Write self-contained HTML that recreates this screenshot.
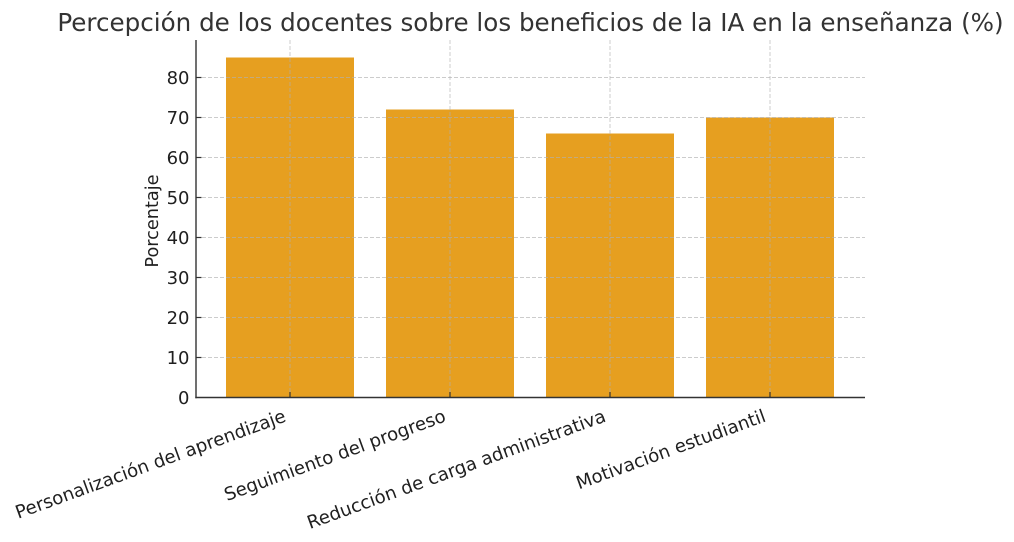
<!DOCTYPE html>
<html>
<head>
<meta charset="utf-8">
<style>
  html, body { margin:0; padding:0; background:#ffffff; }
  svg { display:block; }
  text { font-family: "DejaVu Sans", "Liberation Sans", sans-serif; }
</style>
</head>
<body>
<svg width="1014" height="542" viewBox="0 0 1014 542" xmlns="http://www.w3.org/2000/svg">
  <rect x="0" y="0" width="1014" height="542" fill="#ffffff"/>

  <!-- Title -->
  <text x="530.5" y="31" text-anchor="middle" font-size="24.6" fill="#333333">Percepción de los docentes sobre los beneficios de la IA en la enseñanza (%)</text>

  <!-- Bars -->
  <g fill="#e69f20">
    <rect x="226" y="57.5" width="128" height="340"/>
    <rect x="386" y="109.5" width="128" height="288"/>
    <rect x="546" y="133.5" width="128" height="264"/>
    <rect x="706" y="117.5" width="128" height="280"/>
  </g>

  <!-- Grid -->
  <g stroke="#b0b0b0" stroke-opacity="0.65" stroke-width="1" stroke-dasharray="4,2" fill="none">
    <line x1="196" y1="77.5" x2="865" y2="77.5"/>
    <line x1="196" y1="117.5" x2="865" y2="117.5"/>
    <line x1="196" y1="157.5" x2="865" y2="157.5"/>
    <line x1="196" y1="197.5" x2="865" y2="197.5"/>
    <line x1="196" y1="237.5" x2="865" y2="237.5"/>
    <line x1="196" y1="277.5" x2="865" y2="277.5"/>
    <line x1="196" y1="317.5" x2="865" y2="317.5"/>
    <line x1="196" y1="357.5" x2="865" y2="357.5"/>
    <line x1="290" y1="40" x2="290" y2="397.5"/>
    <line x1="450" y1="40" x2="450" y2="397.5"/>
    <line x1="610" y1="40" x2="610" y2="397.5"/>
    <line x1="770" y1="40" x2="770" y2="397.5"/>
  </g>

  <!-- Ticks (inward) -->
  <g stroke="#333333" stroke-width="1.2">
    <line x1="196" y1="77.5" x2="201.5" y2="77.5"/>
    <line x1="196" y1="117.5" x2="201.5" y2="117.5"/>
    <line x1="196" y1="157.5" x2="201.5" y2="157.5"/>
    <line x1="196" y1="197.5" x2="201.5" y2="197.5"/>
    <line x1="196" y1="237.5" x2="201.5" y2="237.5"/>
    <line x1="196" y1="277.5" x2="201.5" y2="277.5"/>
    <line x1="196" y1="317.5" x2="201.5" y2="317.5"/>
    <line x1="196" y1="357.5" x2="201.5" y2="357.5"/>
    <line x1="290" y1="397.5" x2="290" y2="392"/>
    <line x1="450" y1="397.5" x2="450" y2="392"/>
    <line x1="610" y1="397.5" x2="610" y2="392"/>
    <line x1="770" y1="397.5" x2="770" y2="392"/>
  </g>

  <!-- Spines -->
  <g stroke="#333333" stroke-width="1.4" fill="none">
    <line x1="196" y1="40" x2="196" y2="398.2"/>
    <line x1="195.3" y1="397.5" x2="865" y2="397.5"/>
  </g>

  <!-- Y tick labels -->
  <g font-size="18" fill="#1f1f1f" text-anchor="end">
    <text x="189.5" y="84.1">80</text>
    <text x="189.5" y="124.1">70</text>
    <text x="189.5" y="164.1">60</text>
    <text x="189.5" y="204.1">50</text>
    <text x="189.5" y="244.1">40</text>
    <text x="189.5" y="284.1">30</text>
    <text x="189.5" y="324.1">20</text>
    <text x="189.5" y="364.1">10</text>
    <text x="189.5" y="404.1">0</text>
  </g>

  <!-- Y axis label -->
  <text transform="translate(158,221) rotate(-90)" text-anchor="middle" font-size="17.7" fill="#1f1f1f">Porcentaje</text>

  <!-- X tick labels -->
  <g font-size="18.2" fill="#1f1f1f" text-anchor="end">
    <text transform="translate(287,421) rotate(-20)">Personalización del aprendizaje</text>
    <text transform="translate(447,421) rotate(-20)">Seguimiento del progreso</text>
    <text transform="translate(607,421) rotate(-20)">Reducción de carga administrativa</text>
    <text transform="translate(767,421) rotate(-20)">Motivación estudiantil</text>
  </g>
</svg>
</body>
</html>
